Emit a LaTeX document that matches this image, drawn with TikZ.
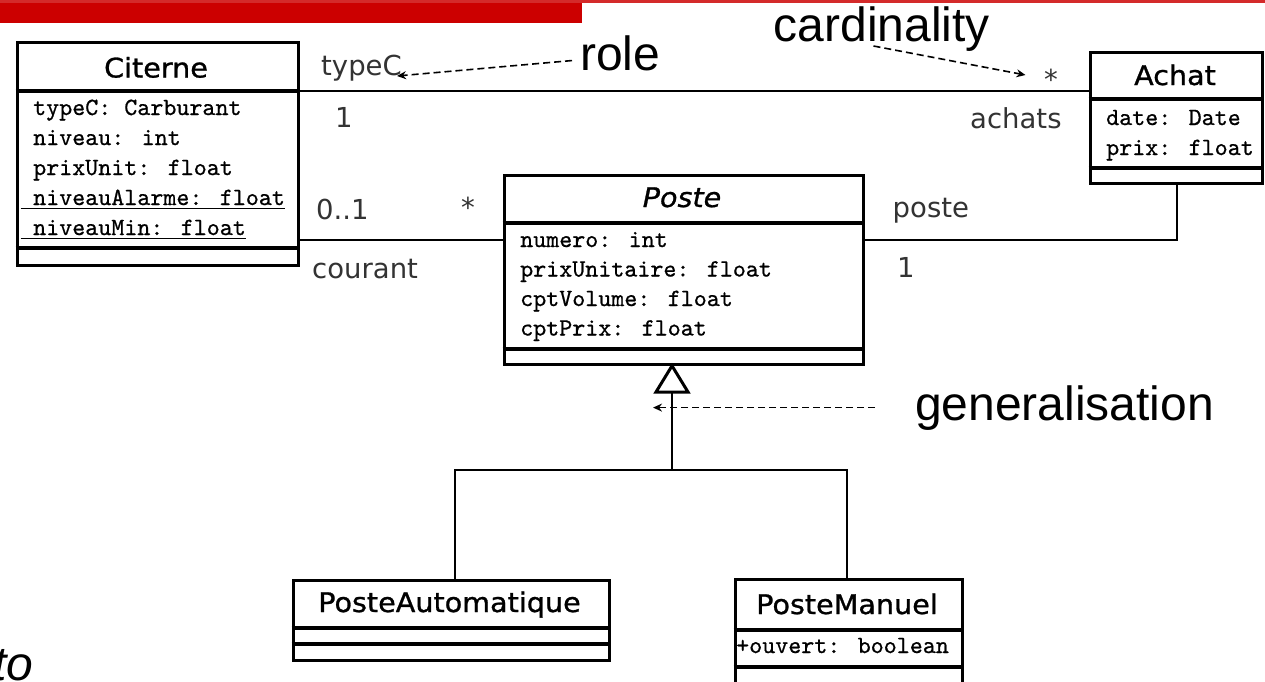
\documentclass[tikz,border=0pt]{standalone}
\usepackage{fontspec}
\setmainfont{DejaVu Sans}
\newfontfamily\classfont[FakeStretch=1.06, UprightFeatures={FakeBold=1.0}, ItalicFeatures={FakeBold=1.0}]{DejaVu Sans}
\newfontfamily\attrfont[FakeBold=0.7]{lmmono10-regular.otf}
\newfontfamily\annotfont{Liberation Sans}
\usetikzlibrary{arrows.meta}
\definecolor{slidered}{HTML}{CC0000}
\definecolor{slideline}{HTML}{D42A2A}
\definecolor{labelgray}{HTML}{333333}
\tikzset{
  classbox/.style={draw=black, line width=3.3pt, inner sep=0pt, anchor=north west},
  sepline/.style={line width=3.3pt},
  assoc/.style={line width=2.9pt},
  classname/.style={font=\classfont\fontsize{27}{30}\selectfont, inner sep=0pt, anchor=base},
  attrtext/.style={font=\attrfont\fontsize{24.8}{28}\selectfont, inner sep=0pt, anchor=base west},
  ulineattr/.style={line width=1.4pt},
  rolelabel/.style={font=\fontsize{27.5}{30}\selectfont, text=labelgray, inner sep=0pt, anchor=base west},
  annottext/.style={font=\annotfont\fontsize{48}{54}\selectfont, inner sep=0pt, anchor=base west},
  calloutarrow/.style={line width=1.6pt, dash pattern=on 7pt off 4pt, -{Stealth[length=9pt,width=8pt]}},
}
\begin{document}
\begin{tikzpicture}[x=1pt,y=-1pt]
\useasboundingbox (0,0) rectangle (1265,681);
\clip (0,0) rectangle (1265,681);
\fill[white] (0,0) rectangle (1265,681);
% slide decoration
\fill[slidered] (0,2) rectangle (582,23);
\fill[slideline] (0,0) rectangle (1265,2.5);

% ---------- Citerne ----------
\node[classbox, minimum width=281pt, minimum height=223pt] (citerne) at (15.5,40.5) {};
\draw[sepline] (15.5,91) -- (296.5,91);
\draw[sepline] (15.5,248) -- (296.5,248);
\node[classname] (citerneName) at (156,77.5) {Citerne};
\node[attrtext] (c1) at (33,115) {typeC: Carburant};
\node[attrtext] (c2) at (33,145) {niveau: int};
\node[attrtext] (c3) at (33,175) {prixUnit: float};
\node[attrtext] (c4) at (33,205) {niveauAlarme: float};
\node[attrtext] (c5) at (33,235) {niveauMin: float};
\draw[ulineattr] (20.5,208.5) -- (c4.east |- 0,208.5);
\draw[ulineattr] (20.5,238.5) -- (c5.east |- 0,238.5);

% ---------- Achat ----------
\node[classbox, minimum width=172.5pt, minimum height=131pt] (achat) at (1088.5,50.5) {};
\draw[sepline] (1088.5,99) -- (1261,99);
\draw[sepline] (1088.5,168) -- (1261,168);
\node[classname] (achatName) at (1175,85) {Achat};
\node[attrtext] (a1) at (1106,125) {date: Date};
\node[attrtext] (a2) at (1106,155) {prix: float};

% ---------- Poste ----------
\node[classbox, minimum width=359pt, minimum height=189pt] (poste) at (502.5,173.5) {};
\draw[sepline] (502.5,223) -- (861.5,223);
\draw[sepline] (502.5,349) -- (861.5,349);
\node[classname, font=\classfont\itshape\fontsize{27}{30}\selectfont] (posteName) at (682,207) {Poste};
\node[attrtext] (p1) at (520,247) {numero: int};
\node[attrtext] (p2) at (520,276.5) {prixUnitaire: float};
\node[attrtext] (p3) at (520,306) {cptVolume: float};
\node[attrtext] (p4) at (520,335.5) {cptPrix: float};

% ---------- PosteAutomatique ----------
\node[classbox, minimum width=316pt, minimum height=80pt] (pauto) at (291.5,578.5) {};
\draw[sepline] (291.5,628) -- (607.5,628);
\draw[sepline] (291.5,644) -- (607.5,644);
\node[classname] (pautoName) at (449.5,612) {PosteAutomatique};

% ---------- PosteManuel ----------
\node[classbox, minimum width=227pt, minimum height=112pt] (pman) at (733.5,577.5) {};
\draw[sepline] (733.5,630) -- (960.5,630);
\draw[sepline] (733.5,667) -- (960.5,667);
\node[classname] (pmanName) at (847,614) {PosteManuel};
\node[attrtext] (m1) at (736,653) {+ouvert: boolean};

% ---------- associations ----------
\draw[assoc] (citerne.east |- 0,91) -- (achat.west |- 0,91);
\draw[assoc] (citerne.east |- 0,240) -- (poste.west |- 0,240);
\draw[assoc] (poste.east |- 0,240) -| (achat.south -| 1177,0);

% ---------- generalisation ----------
\coordinate (apex) at (poste.south -| 672,0);
\coordinate (tribase) at (672,392);
\coordinate (junction) at (672,470);
\draw[line width=3pt, line join=miter, fill=white] (apex) -- (656,392) -- (688,392) -- cycle;
\draw[assoc] (tribase) -- (junction);
\draw[assoc] (pauto.north -| 455,0) |- (junction) -| (pman.north -| 847,0);

% ---------- role / multiplicity labels ----------
\node[rolelabel] (typeC) at (321,75) {typeC};
\node[rolelabel] (oneC) at (335,127) {1};
\node[rolelabel] (starA) at (1044,89) {*};
\node[rolelabel] (achats) at (970,128) {achats};
\node[rolelabel] (zeroone) at (316,219) {0..1};
\node[rolelabel] (starP) at (461,217) {*};
\node[rolelabel] (courant) at (312,278) {courant};
\node[rolelabel] (posteLbl) at (892.5,217) {poste};
\node[rolelabel] (oneP) at (897,277) {1};

% ---------- annotations ----------
\node[annottext] (role) at (580,70.7) {role};
\node[annottext] (cardinality) at (773.5,41.5) {cardinality};
\node[annottext] (gen) at (915,420) {generalisation};
\node[annottext, font=\annotfont\itshape\fontsize{48}{54}\selectfont] (toTxt) at (-7,680) {to};

\draw[calloutarrow] ([xshift=-8pt,yshift=-7pt]role.west) -- ([xshift=-5pt,yshift=-1pt]typeC.base east);
\draw[calloutarrow] ([xshift=100pt,yshift=-4.5pt]cardinality.base west) -- ([xshift=-18.5pt,yshift=14pt]starA.base west);
\draw[calloutarrow] ([xshift=-40pt]gen.west) -- ([xshift=-40pt]gen.west -| 693,0);
\end{tikzpicture}
\end{document}
